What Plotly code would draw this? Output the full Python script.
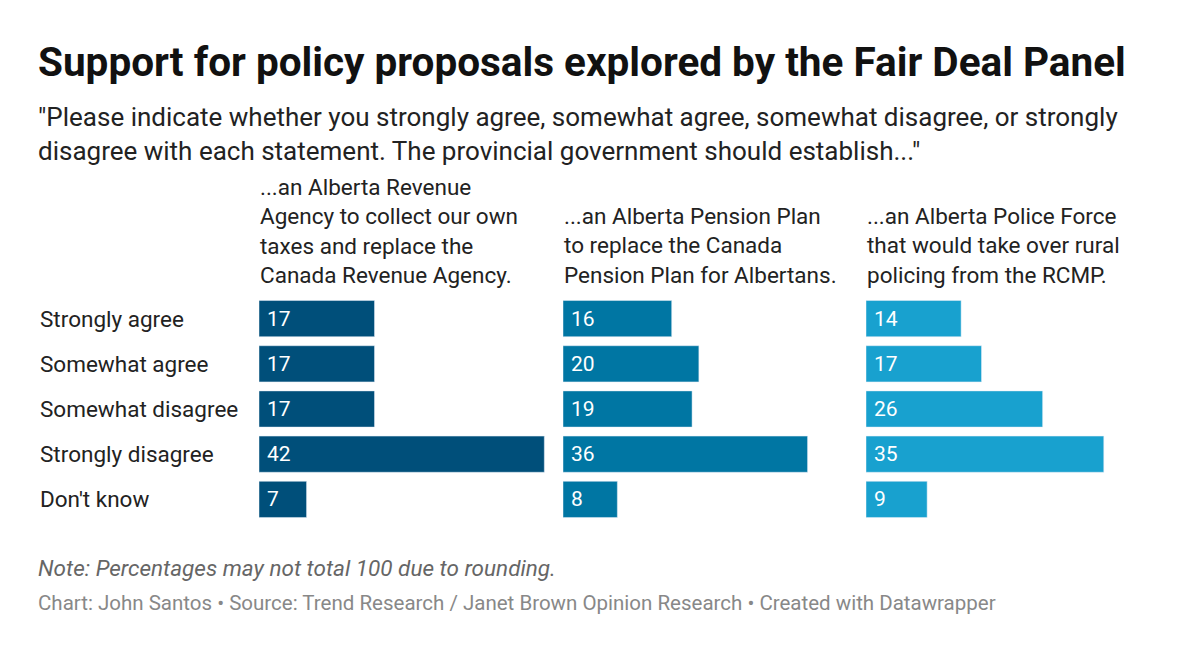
import plotly.graph_objects as go

categories = ["Strongly agree", "Somewhat agree", "Somewhat disagree", "Strongly disagree", "Don't know"]
revenue = [17, 17, 17, 42, 7]
pension = [16, 20, 19, 36, 8]
police = [14, 17, 26, 35, 9]
headers = ["...an Alberta Revenue<br>Agency to collect our own<br>taxes and replace the<br>Canada Revenue Agency.",
           "...an Alberta Pension Plan<br>to replace the Canada<br>Pension Plan for Albertans.",
           "...an Alberta Police Force<br>that would take over rural<br>policing from the RCMP."]
colors = ["#004f7a", "#0076a3", "#18a1cf"]
series = [revenue, pension, police]

W, H = 1200, 653
OX, OY = 8, 8
px = lambda x: (x - OX) / W
py = lambda y: 1 - (y - OY) / H
starts = [259, 563, 866]
pw = 286

fig = go.Figure()
for i, (vals, col) in enumerate(zip(series, colors)):
    n = "" if i == 0 else str(i + 1)
    fig.add_trace(go.Bar(x=vals, y=categories, orientation="h", marker_color=col,
                         xaxis="x" + n, yaxis="y" + n, width=0.8, hoverinfo="skip"))
    fig.layout["xaxis" + n] = dict(domain=[px(starts[i]), px(starts[i] + pw)], range=[0, 42.1],
                                   visible=False, fixedrange=True)
    fig.layout["yaxis" + n] = dict(domain=[py(522), py(296)], categoryorder="array",
                                   categoryarray=categories[::-1], visible=False,
                                   anchor="x" + n)
    for c, v in zip(categories, vals):
        fig.add_annotation(x=0, y=c, xref="x" + n, yref="y" + n, text=str(v), xanchor="left",
                           yanchor="middle", xshift=6, showarrow=False,
                           font=dict(size=21, color="white", family="Roboto"))
    fig.add_annotation(x=px(starts[i] - 1), y=py(290), xref="paper", yref="paper", text=headers[i],
                       xanchor="left", yanchor="bottom", align="left", showarrow=False,
                       font=dict(size=22.5, color="#222", family="Roboto"))

for j, c in enumerate(categories):
    fig.add_annotation(x=px(38), y=py(319 + 45 * j), xref="paper", yref="paper", text=c,
                       xanchor="left", yanchor="middle", showarrow=False,
                       font=dict(size=22.5, color="#222", family="Roboto"))

fig.add_annotation(x=px(36), y=py(62), xref="paper", yref="paper",
                   text="<b>Support for policy proposals explored by the Fair Deal Panel</b>",
                   xanchor="left", yanchor="middle", showarrow=False,
                   font=dict(size=40.5, color="#111", family="Roboto"))
fig.add_annotation(x=px(36), y=py(134), xref="paper", yref="paper",
                   text="\"Please indicate whether you strongly agree, somewhat agree, somewhat disagree, or strongly<br>disagree with each statement. The provincial government should establish...\"",
                   xanchor="left", yanchor="middle", align="left", showarrow=False,
                   font=dict(size=26, color="#222", family="Roboto"))
fig.add_annotation(x=px(36), y=py(568), xref="paper", yref="paper",
                   text="<i>Note: Percentages may not total 100 due to rounding.</i>",
                   xanchor="left", yanchor="middle", showarrow=False,
                   font=dict(size=22.5, color="#666", family="Roboto"))
fig.add_annotation(x=px(36), y=py(603), xref="paper", yref="paper",
                   text="Chart: John Santos • Source: Trend Research / Janet Brown Opinion Research • Created with Datawrapper",
                   xanchor="left", yanchor="middle", showarrow=False,
                   font=dict(size=20.5, color="#888", family="Roboto"))

fig.update_layout(width=W, height=H, margin=dict(l=0, r=0, t=0, b=0), showlegend=False,
                  plot_bgcolor="white", paper_bgcolor="white", bargap=0.2)
fig.write_html("out.html")
